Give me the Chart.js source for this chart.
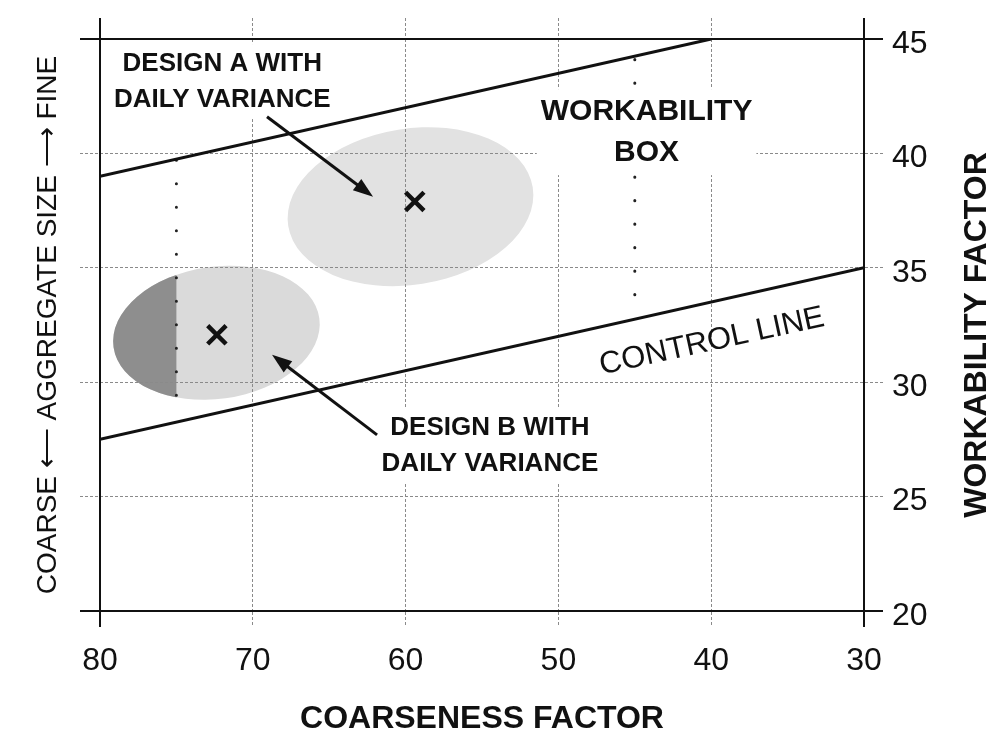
<!DOCTYPE html>
<html>
<head>
<meta charset="utf-8">
<script src="https://cdn.jsdelivr.net/npm/chart.js@4.4.0/dist/chart.umd.min.js"></script>
<style>
  html, body { margin: 0; padding: 0; background: #fff; }
  #wrap { width: 997px; height: 750px; position: relative; }
</style>
</head>
<body>
<div id="wrap"><canvas id="myChart"></canvas></div>
<script>
// ejes
const xMin = 30, xMax = 80, xStep = 10;
const yMin = 20, yMax = 45, yStep = 5;

// lineas (coarseness, workability)
const upperLineX = [80, 40];
const upperLineY = [39, 45];
const controlLineX = [80, 30];
const controlLineY = [27.5, 35];

// verticales punteadas
const dots75X = [75, 75];
const dots75Y = [39.7, 28.5];
const dots45X = [45, 45];
const dots45Y = [44.1, 33.1];

// diseños A y B
const designNames = ["A", "B"];
const designCenterX = [59.68, 72.38];
const designCenterY = [37.67, 32.16];
const designRadiusX = [8.1, 6.8];
const designRadiusY = [3.41, 2.89];
const designMarkX = [59.4, 72.35];
const designMarkY = [37.9, 32.07];

// textos
const labelTexts = [["DESIGN A WITH", "DAILY VARIANCE"], ["WORKABILITY", "BOX"], ["DESIGN B WITH", "DAILY VARIANCE"]];
const labelX = [72.0, 44.23, 54.48];
const labelY = [43.14, 40.93, 27.24];
const controlText = "CONTROL LINE";
const controlTextX = 39.95;
const controlTextY = 31.77;

// flechas
const arrowFromX = [69.07, 61.87];
const arrowFromY = [41.6, 27.7];
const arrowToX = [62.13, 68.74];
const arrowToY = [38.11, 31.2];

const FONT = '"Liberation Sans", Arial, sans-serif';
const labelSizes = [26, 30, 26];
const labelGaps = [36, 41, 36];
const designTilt = [-9, -8];
const designFill = ["#e2e2e2", "#dadada"];
const darkFill = "#8e8e8e";

const isEdgeX = v => v === xMin || v === xMax;
const isEdgeY = v => v === yMin || v === yMax;

const plugin = {
  id: "dibujo",
  beforeDraw(chart) {
    const { ctx, scales: { x, y } } = chart;
    designNames.forEach((n, i) => {
      const cx = x.getPixelForValue(designCenterX[i]);
      const cy = y.getPixelForValue(designCenterY[i]);
      const rx = Math.abs(x.getPixelForValue(designCenterX[i] + designRadiusX[i]) - cx);
      const ry = Math.abs(y.getPixelForValue(designCenterY[i] + designRadiusY[i]) - cy);
      ctx.save();
      ctx.beginPath();
      ctx.ellipse(cx, cy, rx, ry, designTilt[i] * Math.PI / 180, 0, Math.PI * 2);
      ctx.fillStyle = designFill[i];
      ctx.fill();
      if (n === "B") {
        const cut = x.getPixelForValue(dots75X[0]);
        ctx.clip();
        ctx.fillStyle = darkFill;
        ctx.fillRect(cx - rx - 10, cy - ry - 20, cut - (cx - rx - 10), 2 * ry + 40);
      }
      ctx.restore();
    });
  },
  afterDatasetsDraw(chart) {
    const { ctx, scales: { x, y } } = chart;
    // fondo blanco detras de los textos
    labelTexts.forEach((lines, i) => {
      ctx.save();
      ctx.font = "bold " + labelSizes[i] + "px " + FONT;
      const w = Math.max(...lines.map(t => ctx.measureText(t).width));
      const cx = x.getPixelForValue(labelX[i]);
      const cy = y.getPixelForValue(labelY[i]);
      const h = (lines.length - 1) * labelGaps[i] / 2 + labelSizes[i] * 0.75;
      ctx.fillStyle = "#fff";
      ctx.fillRect(cx - w / 2 - 4, cy - h, w + 8, 2 * h);
      ctx.restore();
    });
  },
  afterDraw(chart) {
    const { ctx, scales: { x, y }, chartArea } = chart;
    ctx.save();
    ctx.fillStyle = "#111";
    ctx.textAlign = "center";
    ctx.textBaseline = "middle";
    labelTexts.forEach((lines, i) => {
      ctx.font = "bold " + labelSizes[i] + "px " + FONT;
      const cx = x.getPixelForValue(labelX[i]);
      const cy = y.getPixelForValue(labelY[i]);
      lines.forEach((t, j) => {
        ctx.fillText(t, cx, cy + (j - (lines.length - 1) / 2) * labelGaps[i]);
      });
    });

    // control line
    ctx.save();
    ctx.translate(x.getPixelForValue(controlTextX), y.getPixelForValue(controlTextY));
    ctx.rotate(-12.3 * Math.PI / 180);
    ctx.font = "31px " + FONT;
    ctx.fillText(controlText, 0, 0);
    ctx.restore();

    // flechas
    ctx.strokeStyle = "#111";
    ctx.lineWidth = 3;
    arrowFromX.forEach((fx, i) => {
      const x1 = x.getPixelForValue(fx), y1 = y.getPixelForValue(arrowFromY[i]);
      const x2 = x.getPixelForValue(arrowToX[i]), y2 = y.getPixelForValue(arrowToY[i]);
      const a = Math.atan2(y2 - y1, x2 - x1);
      const len = 20, half = 7;
      const bx = x2 - Math.cos(a) * len, by = y2 - Math.sin(a) * len;
      ctx.beginPath();
      ctx.moveTo(x1, y1);
      ctx.lineTo(bx + Math.cos(a) * 4, by + Math.sin(a) * 4);
      ctx.stroke();
      ctx.beginPath();
      ctx.moveTo(x2, y2);
      ctx.lineTo(bx - Math.sin(a) * half, by + Math.cos(a) * half);
      ctx.lineTo(bx + Math.sin(a) * half, by - Math.cos(a) * half);
      ctx.closePath();
      ctx.fill();
    });

    // titulo derecho (de abajo hacia arriba)
    ctx.save();
    ctx.translate(chart.scales.y.right - 20, (chartArea.top + chartArea.bottom) / 2 + 10);
    ctx.rotate(-Math.PI / 2);
    ctx.font = "bold 32px " + FONT;
    ctx.fillText("WORKABILITY FACTOR", 0, 0);
    ctx.restore();
    ctx.restore();
  }
};

const lineStyle = { showLine: true, pointRadius: 0, borderColor: "#111", borderWidth: 3, fill: false };
const dotStyle = { showLine: true, pointRadius: 0, borderColor: "#222", borderWidth: 3, borderDash: [0.1, 23.4], borderCapStyle: "round", fill: false };
const toPts = (xs, ys) => xs.map((v, i) => ({ x: v, y: ys[i] }));

const gridColor = "#8a8a8a";
const tickLook = (edgeFn) => ({
  color: c => edgeFn(c.tick.value) ? "rgba(0,0,0,0)" : gridColor,
  lineWidth: c => edgeFn(c.tick.value) ? 2 : 1,
  tickColor: c => edgeFn(c.tick.value) ? "#111" : gridColor,
  tickWidth: c => edgeFn(c.tick.value) ? 2 : 1,
  tickBorderDash: c => edgeFn(c.tick.value) ? [] : [3, 2]
});

new Chart(document.getElementById("myChart"), {
  type: "scatter",
  data: {
    datasets: [
      { ...lineStyle, data: toPts(upperLineX, upperLineY) },
      { ...lineStyle, data: toPts(controlLineX, controlLineY) },
      { ...dotStyle, data: toPts(dots75X, dots75Y) },
      { ...dotStyle, data: toPts(dots45X, dots45Y) },
      { data: toPts(designMarkX, designMarkY), pointStyle: "crossRot", pointRadius: 13, borderWidth: 4.5, borderColor: "#111", backgroundColor: "#111" }
    ]
  },
  options: {
    responsive: true,
    maintainAspectRatio: false,
    animation: false,
    layout: { padding: 0 },
    plugins: { legend: { display: false }, tooltip: { enabled: false } },
    scales: {
      x: {
        type: "linear", position: "bottom", min: xMin, max: xMax, reverse: true,
        afterFit: s => { s.height = 139; },
        ticks: { stepSize: xStep, color: "#111", font: { size: 32, family: FONT }, padding: 15 },
        grid: { ...tickLook(isEdgeX), tickLength: 16 },
        border: { color: "#111", width: 2, dash: [3, 2] },
        title: { display: true, text: "COARSENESS FACTOR", color: "#111", font: { size: 32, weight: "bold", family: FONT }, padding: { top: 0, bottom: 12 } }
      },
      x2: {
        type: "linear", position: "top", min: xMin, max: xMax, reverse: true,
        afterFit: s => { s.height = 39; },
        ticks: { stepSize: xStep, display: false },
        grid: { ...tickLook(isEdgeX), drawOnChartArea: false, tickLength: 21 },
        border: { color: "#111", width: 2 }
      },
      y: {
        type: "linear", position: "right", min: yMin, max: yMax,
        afterFit: s => { s.width = 133; },
        ticks: { stepSize: yStep, color: "#111", font: { size: 32, family: FONT }, padding: 9, labelOffset: 5 },
        grid: { ...tickLook(isEdgeY), tickLength: 19 },
        border: { color: "#111", width: 2, dash: [3, 2] }
      },
      y2: {
        type: "linear", position: "left", min: yMin, max: yMax,
        afterFit: s => { s.width = 100; },
        ticks: { stepSize: yStep, display: false },
        grid: { ...tickLook(isEdgeY), drawOnChartArea: false, tickLength: 20 },
        border: { color: "#111", width: 2 },
        title: { display: true, text: "COARSE \u27F5 AGGREGATE SIZE \u27F6 FINE", color: "#111", font: { size: 28, family: FONT }, padding: { top: 31, bottom: 0 } }
      }
    }
  },
  plugins: [plugin]
});
</script>
</body>
</html>
